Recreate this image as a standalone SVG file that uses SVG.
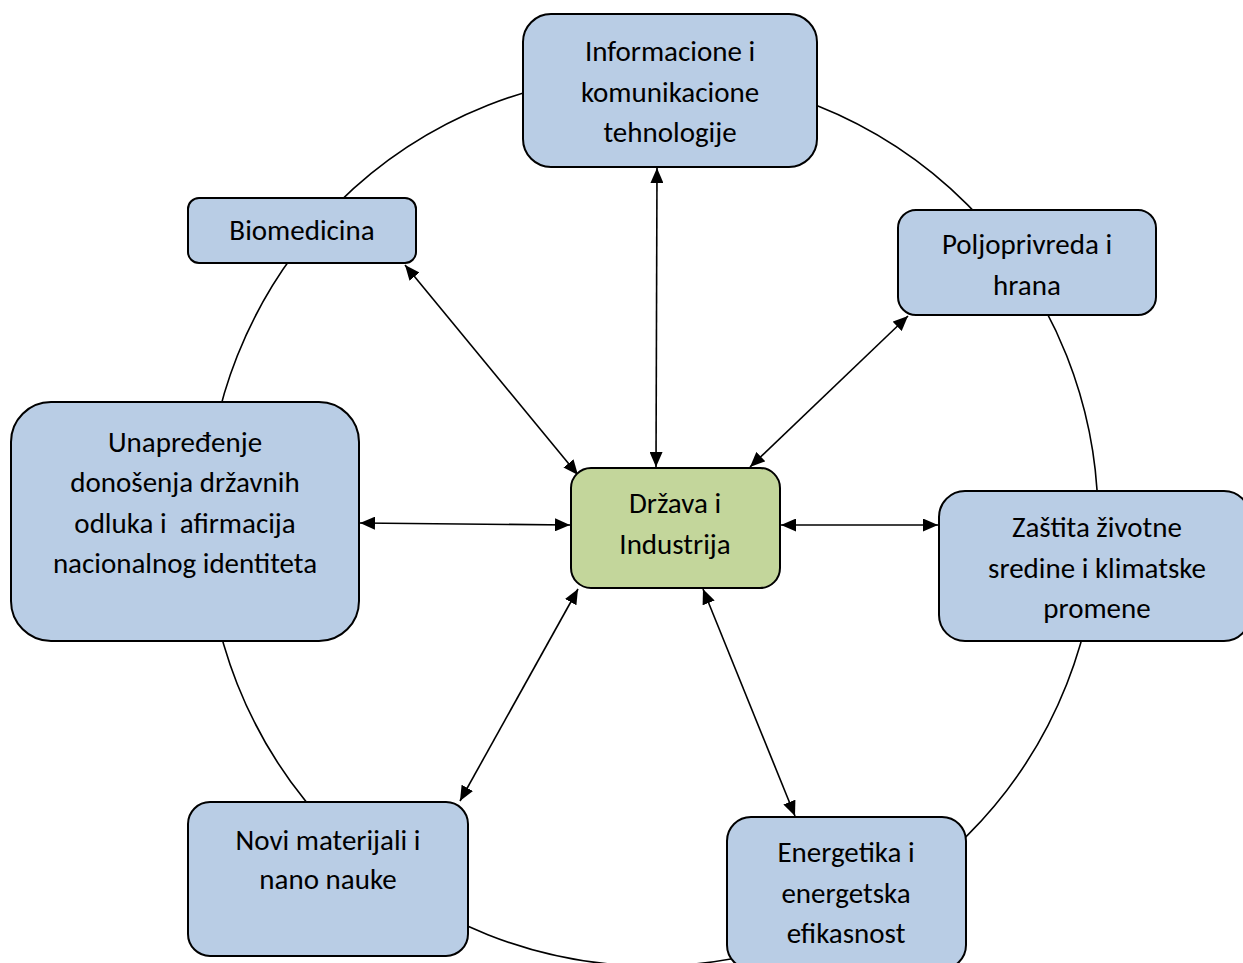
<svg xmlns="http://www.w3.org/2000/svg" width="1243" height="963" viewBox="0 0 1243 963">
<style>
.box{fill:#B9CDE5;stroke:#000;stroke-width:2}
.center{fill:#C3D69B;stroke:#000;stroke-width:2}
.lbl{font-family:Carlito,Lato,"Open Sans",sans-serif;font-size:29px;fill:#000;text-anchor:middle}
.conn{stroke:#000;stroke-width:1.6;fill:none;marker-start:url(#ah);marker-end:url(#ah)}
.ring{stroke:#000;stroke-width:1.6;fill:none}
</style>
<defs>
<marker id="ah" viewBox="0 0 10 10" refX="10" refY="5" markerWidth="15" markerHeight="13" markerUnits="userSpaceOnUse" orient="auto-start-reverse" preserveAspectRatio="none">
<path d="M0,0 L10,5 L0,10 z" fill="#000"/>
</marker>
</defs>
<rect width="1243" height="963" fill="#fff"/>
<circle class="ring" cx="652" cy="520" r="446"/>
<g id="connectors">
<line class="conn" x1="656" y1="467" x2="657" y2="168"/>
<line class="conn" x1="578" y1="475" x2="405" y2="265"/>
<line class="conn" x1="750" y1="467" x2="908" y2="316"/>
<line class="conn" x1="570" y1="525" x2="360" y2="523"/>
<line class="conn" x1="781" y1="525" x2="938" y2="525"/>
<line class="conn" x1="578" y1="589" x2="460" y2="801"/>
<line class="conn" x1="703" y1="589" x2="795" y2="816"/>
</g>
<g id="n-ikt">
<rect class="box" x="523" y="14" width="294" height="153" rx="28"/>
<text class="lbl" x="670" y="61">Informacione i</text>
<text class="lbl" x="670" y="102">komunikacione</text>
<text class="lbl" x="670" y="142">tehnologije</text>
</g>
<g id="n-bio">
<rect class="box" x="188" y="198" width="228" height="65" rx="11"/>
<text class="lbl" x="302" y="240">Biomedicina</text>
</g>
<g id="n-polj">
<rect class="box" x="898" y="210" width="258" height="105" rx="18"/>
<text class="lbl" x="1027" y="254">Poljoprivreda i</text>
<text class="lbl" x="1027" y="295">hrana</text>
</g>
<g id="n-unap">
<rect class="box" x="11" y="402" width="348" height="239" rx="40"/>
<text class="lbl" x="185" y="452">Unapređenje</text>
<text class="lbl" x="185" y="492">donošenja državnih</text>
<text class="lbl" x="185" y="533" xml:space="preserve">odluka i  afirmacija</text>
<text class="lbl" x="185" y="573">nacionalnog identiteta</text>
</g>
<g id="n-drzava">
<rect class="center" x="571" y="468" width="209" height="120" rx="20"/>
<text class="lbl" x="675" y="513">Država i</text>
<text class="lbl" x="675" y="554">Industrija</text>
</g>
<g id="n-zastita">
<rect class="box" x="939" y="491" width="311" height="150" rx="26"/>
<text class="lbl" x="1097" y="537">Zaštita životne</text>
<text class="lbl" x="1097" y="578">sredine i klimatske</text>
<text class="lbl" x="1097" y="618">promene</text>
</g>
<g id="n-novi">
<rect class="box" x="188" y="802" width="280" height="154" rx="22"/>
<text class="lbl" x="328" y="850">Novi materijali i</text>
<text class="lbl" x="328" y="889">nano nauke</text>
</g>
<g id="n-energ">
<rect class="box" x="727" y="817" width="239" height="152" rx="24"/>
<text class="lbl" x="846" y="862">Energetika i</text>
<text class="lbl" x="846" y="903">energetska</text>
<text class="lbl" x="846" y="943">efikasnost</text>
</g>
</svg>
